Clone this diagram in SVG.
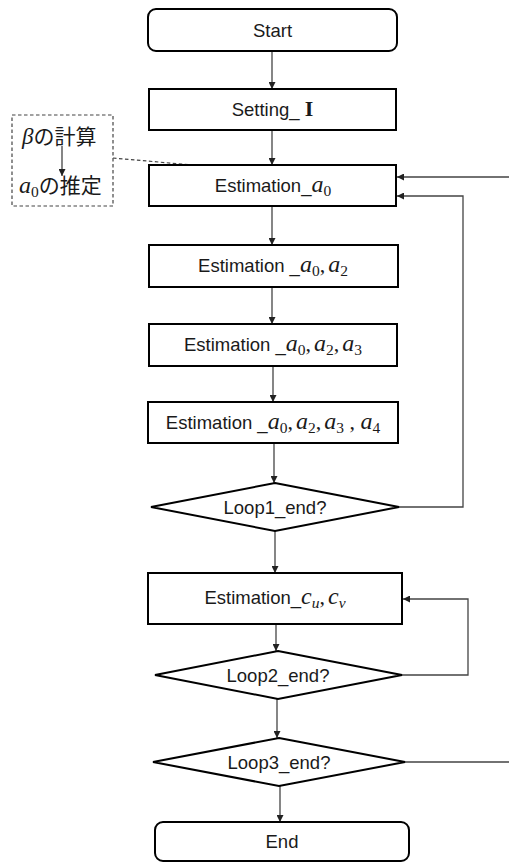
<svg xmlns="http://www.w3.org/2000/svg" width="509" height="863" viewBox="0 0 509 863">
<style>
.box{fill:#fff;stroke:#000;stroke-width:2}
.lbl{font-family:"Liberation Sans",Arial,sans-serif;font-size:18.5px;fill:#1a1a1a;text-anchor:middle}
.m{font-family:"Liberation Serif","DejaVu Serif",serif;font-style:italic;font-size:24px}
.mr{font-family:"Liberation Serif","DejaVu Serif",serif;font-size:22px}
.sub{font-family:"Liberation Serif","DejaVu Serif",serif;font-size:15.5px}
.subi{font-family:"Liberation Serif","DejaVu Serif",serif;font-style:italic;font-size:15.5px}
.cjk{font-family:"Noto Sans CJK JP","Noto Sans CJK SC",sans-serif;font-size:21px;fill:#1a1a1a}
.con{fill:none;stroke:#444;stroke-width:1.3}
.dash{fill:none;stroke:#444;stroke-width:1.2;stroke-dasharray:3.5 2.5}
</style>
<defs>
<marker id="ah" viewBox="0 0 10 10" refX="10" refY="5" markerWidth="7" markerHeight="7" markerUnits="userSpaceOnUse" orient="auto">
<path d="M0,0 L10,5 L0,10 z" fill="#222"/>
</marker>
</defs>

<g id="connectors">
<line class="con" x1="272" y1="51" x2="272" y2="89" marker-end="url(#ah)"/>
<line class="con" x1="272" y1="130" x2="272" y2="165" marker-end="url(#ah)"/>
<line class="con" x1="272" y1="206" x2="272" y2="245" marker-end="url(#ah)"/>
<line class="con" x1="272" y1="287" x2="272" y2="324" marker-end="url(#ah)"/>
<line class="con" x1="273" y1="366" x2="273" y2="402" marker-end="url(#ah)"/>
<line class="con" x1="274" y1="443" x2="274" y2="483" marker-end="url(#ah)"/>
<line class="con" x1="275" y1="531" x2="275" y2="573" marker-end="url(#ah)"/>
<line class="con" x1="276" y1="624" x2="276" y2="651" marker-end="url(#ah)"/>
<line class="con" x1="277" y1="699" x2="277" y2="738" marker-end="url(#ah)"/>
<line class="con" x1="280" y1="786" x2="280" y2="822" marker-end="url(#ah)"/>
<path class="con" d="M399,507 H463 V196 H397" marker-end="url(#ah)"/>
<path class="con" d="M402,675 H468 V599 H403" marker-end="url(#ah)"/>
<path class="con" d="M405,762 H514 V177 H397" marker-end="url(#ah)"/>
<line class="dash" x1="113" y1="158" x2="192" y2="165"/>
</g>

<g id="note">
<rect x="12" y="115" width="101" height="91" fill="#fff" stroke="#444" stroke-width="1.2" stroke-dasharray="3.5 2.5"/>
<text x="22" y="144" class="cjk"><tspan class="m" style="font-size:23px">β</tspan>の計算</text>
<line class="con" x1="62" y1="146" x2="62" y2="176" marker-end="url(#ah)"/>
<text x="19" y="193" class="cjk"><tspan class="m" style="font-size:24px">a</tspan><tspan class="sub" style="font-size:15.5px" dy="4">0</tspan><tspan dy="-4">の推定</tspan></text>
</g>

<g id="start">
<rect class="box" x="148" y="9" width="249" height="42" rx="8"/>
<text class="lbl" x="272.5" y="36.5">Start</text>
</g>

<g id="setting">
<rect class="box" x="149" y="89" width="247" height="41"/>
<text class="lbl" x="272.5" y="116">Setting_ <tspan style="font-family:'Liberation Serif',serif;font-weight:bold;font-size:22px">I</tspan></text>
</g>

<g id="est1">
<rect class="box" x="149" y="165" width="247" height="41"/>
<text class="lbl" x="273" y="192">Estimation_<tspan class="m">a</tspan><tspan class="sub" dy="4">0</tspan></text>
</g>

<g id="est2">
<rect class="box" x="149" y="245" width="249" height="42"/>
<text class="lbl" x="273" y="272">Estimation _<tspan class="m">a</tspan><tspan class="sub" dy="4">0</tspan><tspan class="mr" dy="-4">,</tspan><tspan class="m" dx="3">a</tspan><tspan class="sub" dy="4">2</tspan></text>
</g>

<g id="est3">
<rect class="box" x="149" y="324" width="248" height="42"/>
<text class="lbl" x="273" y="351">Estimation _<tspan class="m">a</tspan><tspan class="sub" dy="4">0</tspan><tspan class="mr" dy="-4">,</tspan><tspan class="m" dx="3">a</tspan><tspan class="sub" dy="4">2</tspan><tspan class="mr" dy="-4">,</tspan><tspan class="m" dx="3">a</tspan><tspan class="sub" dy="4">3</tspan></text>
</g>

<g id="est4">
<rect class="box" x="148" y="402" width="250" height="41"/>
<text class="lbl" x="273" y="429">Estimation _<tspan class="m">a</tspan><tspan class="sub" dy="4">0</tspan><tspan class="mr" dy="-4">,</tspan><tspan class="m" dx="3">a</tspan><tspan class="sub" dy="4">2</tspan><tspan class="mr" dy="-4">,</tspan><tspan class="m" dx="3">a</tspan><tspan class="sub" dy="4">3</tspan><tspan class="mr" dy="-4"> , </tspan><tspan class="m">a</tspan><tspan class="sub" dy="4">4</tspan></text>
</g>

<g id="loop1">
<polygon class="box" points="275,483 399,507 275,531 151,507"/>
<text class="lbl" x="275" y="513.5">Loop1_end?</text>
</g>

<g id="est5">
<rect class="box" x="148" y="573" width="254" height="51"/>
<text class="lbl" x="275" y="604">Estimation_<tspan class="m">c</tspan><tspan class="subi" dy="4">u</tspan><tspan class="mr" dy="-4">,</tspan><tspan class="m" dx="3">c</tspan><tspan class="subi" dy="4">v</tspan></text>
</g>

<g id="loop2">
<polygon class="box" points="278,651 402,675 278,699 155,675"/>
<text class="lbl" x="278" y="681.5">Loop2_end?</text>
</g>

<g id="loop3">
<polygon class="box" points="279,738 405,762 279,786 153,762"/>
<text class="lbl" x="279" y="768.5">Loop3_end?</text>
</g>

<g id="end">
<rect class="box" x="155" y="822" width="254" height="39" rx="8"/>
<text class="lbl" x="282" y="848">End</text>
</g>
</svg>
